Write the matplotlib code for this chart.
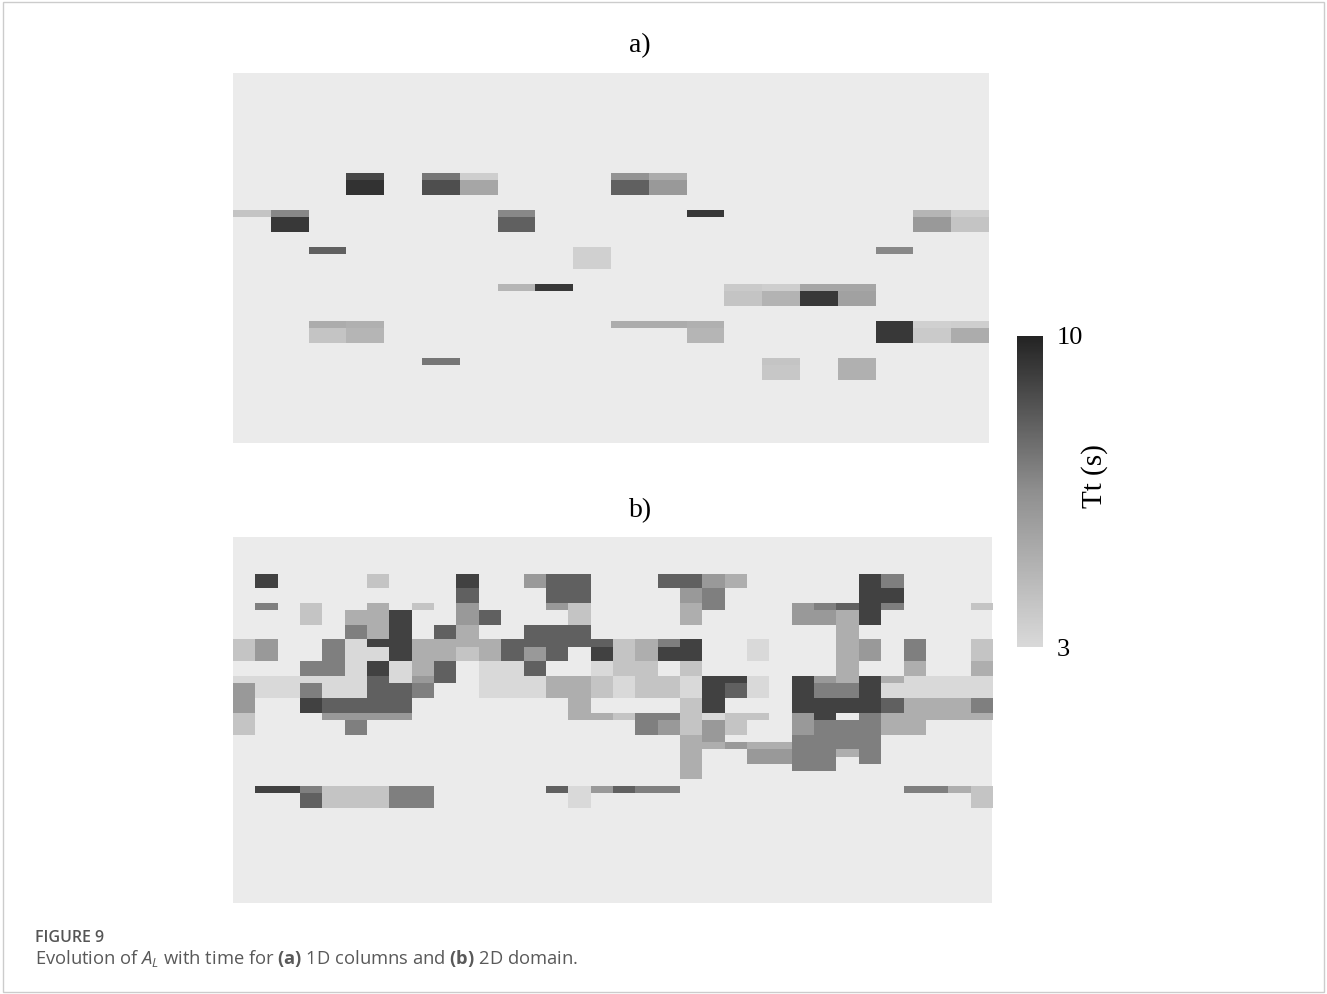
import numpy as np
import matplotlib
matplotlib.use('Agg')
import matplotlib.pyplot as plt
from matplotlib.colors import LinearSegmentedColormap, Normalize
from matplotlib.cm import ScalarMappable
from matplotlib.patches import Rectangle

# ---- data ----
# panel a: 20 soil columns, 6 layers; each patch = (column, layer, Tt upper part, Tt lower part)
a_ncols = 20
a_nrows = 100
a_layer_rows = [27, 37, 47, 57, 67, 77]
a_patches = [
    (3, 0, 8.8, 9.5), (5, 0, 7.3, 8.6), (6, 0, 3.5, 5.4), (10, 0, 6.3, 8.0), (11, 0, 5.1, 6.0),
    (0, 1, 4.0, None), (1, 1, 6.7, 9.3), (7, 1, 6.7, 8.0), (12, 1, 9.3, None),
    (18, 1, 4.7, 6.0), (19, 1, 3.5, 4.0),
    (2, 2, 8.0, None), (9, 2, 3.4, 3.4), (17, 2, 6.7, None),
    (7, 3, 4.7, None), (8, 3, 9.3, None), (13, 3, 3.7, 4.0), (14, 3, 3.5, 4.8),
    (15, 3, 5.4, 9.3), (16, 3, 5.4, 5.6),
    (2, 4, 5.1, 4.0), (3, 4, 4.9, 4.7), (10, 4, 5.1, None), (11, 4, 5.1, None),
    (12, 4, 4.9, 4.7), (17, 4, 9.3, 9.3), (18, 4, 3.4, 3.7), (19, 4, 3.5, 5.1),
    (5, 5, 7.3, None), (14, 5, 4.0, 3.85), (16, 5, 4.9, 4.9),
]

# panel b: 2D domain, 34 x 50 cells; each entry = (column, first row, last row, Tt)
b_ncols = 34
b_nrows = 50
b_cells = [
    (0, 14, 16, 4), (0, 19, 19, 3), (0, 20, 23, 6), (0, 24, 26, 4),
    (1, 5, 6, 9), (1, 9, 9, 7), (1, 14, 16, 6), (1, 19, 21, 3), (1, 34, 34, 9),
    (2, 19, 21, 3), (2, 34, 34, 9),
    (3, 9, 11, 4), (3, 17, 18, 7), (3, 19, 19, 3), (3, 20, 21, 7), (3, 22, 23, 9),
    (3, 34, 34, 7), (3, 35, 36, 8),
    (4, 14, 18, 7), (4, 19, 21, 3), (4, 22, 23, 8), (4, 24, 24, 6), (4, 34, 36, 4),
    (5, 10, 11, 5), (5, 12, 13, 7), (5, 14, 21, 3), (5, 22, 23, 8), (5, 24, 24, 6),
    (5, 25, 26, 7), (5, 34, 36, 4),
    (6, 5, 6, 4), (6, 9, 13, 5), (6, 14, 14, 9), (6, 15, 16, 3), (6, 17, 18, 9),
    (6, 19, 23, 8), (6, 24, 24, 6), (6, 34, 36, 4),
    (7, 10, 16, 9), (7, 17, 19, 3), (7, 20, 23, 8), (7, 24, 24, 6), (7, 34, 36, 7),
    (8, 9, 9, 4), (8, 14, 18, 5), (8, 19, 19, 6), (8, 20, 21, 7), (8, 34, 36, 7),
    (9, 12, 13, 8), (9, 14, 16, 5), (9, 17, 19, 8),
    (10, 5, 6, 9), (10, 7, 8, 8), (10, 9, 11, 6), (10, 12, 14, 5), (10, 15, 16, 4),
    (11, 10, 11, 8), (11, 14, 16, 5), (11, 17, 21, 3),
    (12, 14, 16, 8), (12, 17, 21, 3),
    (13, 5, 6, 6), (13, 12, 14, 8), (13, 15, 16, 6), (13, 17, 18, 8), (13, 19, 21, 3),
    (14, 5, 8, 8), (14, 9, 9, 6), (14, 12, 16, 8), (14, 19, 21, 5), (14, 34, 34, 8),
    (15, 5, 8, 8), (15, 9, 11, 4), (15, 12, 14, 8), (15, 19, 24, 5), (15, 34, 36, 3),
    (16, 14, 14, 8), (16, 15, 16, 9), (16, 17, 18, 3), (16, 19, 21, 4), (16, 24, 24, 5),
    (16, 34, 34, 6),
    (17, 14, 18, 4), (17, 19, 21, 3), (17, 24, 24, 4), (17, 34, 34, 8),
    (18, 14, 16, 5), (18, 17, 21, 4), (18, 24, 26, 7), (18, 34, 34, 7),
    (19, 5, 6, 8), (19, 14, 14, 7), (19, 15, 16, 9), (19, 19, 21, 4), (19, 24, 24, 7),
    (19, 25, 26, 6), (19, 34, 34, 7),
    (20, 5, 6, 8), (20, 7, 8, 6), (20, 9, 11, 5), (20, 14, 16, 9), (20, 17, 18, 4),
    (20, 19, 21, 3), (20, 22, 26, 4), (20, 27, 32, 5),
    (21, 5, 6, 6), (21, 7, 9, 7), (21, 19, 23, 9), (21, 24, 24, 3), (21, 25, 27, 6),
    (21, 28, 28, 5),
    (22, 5, 6, 5), (22, 19, 19, 9), (22, 20, 21, 8), (22, 24, 26, 4), (22, 28, 28, 6),
    (23, 14, 16, 3), (23, 19, 21, 3), (23, 24, 24, 4), (23, 28, 28, 5), (23, 29, 30, 6),
    (24, 28, 28, 5), (24, 29, 30, 6),
    (25, 9, 11, 6), (25, 19, 23, 9), (25, 24, 26, 6), (25, 27, 31, 7),
    (26, 9, 9, 7), (26, 10, 11, 6), (26, 19, 19, 6), (26, 20, 21, 7), (26, 22, 24, 9),
    (26, 25, 31, 7),
    (27, 9, 9, 8), (27, 10, 19, 5), (27, 20, 21, 7), (27, 22, 23, 9), (27, 25, 28, 7),
    (27, 29, 29, 5),
    (28, 5, 11, 9), (28, 14, 16, 6), (28, 19, 23, 9), (28, 24, 30, 7),
    (29, 5, 6, 7), (29, 7, 8, 9), (29, 9, 9, 7), (29, 19, 19, 5), (29, 20, 21, 3),
    (29, 22, 23, 8), (29, 24, 26, 5),
    (30, 14, 16, 7), (30, 17, 18, 5), (30, 19, 21, 3), (30, 22, 26, 5), (30, 34, 34, 7),
    (31, 19, 21, 3), (31, 22, 24, 5), (31, 34, 34, 7),
    (32, 19, 21, 3), (32, 22, 24, 5), (32, 34, 34, 5),
    (33, 9, 9, 4), (33, 14, 16, 4), (33, 17, 18, 5), (33, 19, 21, 3), (33, 22, 23, 7),
    (33, 24, 24, 5), (33, 34, 36, 4),
]

tt_min, tt_max = 3, 10

# ---- build grids ----
a_grid = np.full((a_nrows, a_ncols), np.nan)
for col, layer, t_up, t_low in a_patches:
    r = a_layer_rows[layer]
    if t_up is not None:
        a_grid[r:r + 2, col] = t_up
    if t_low is not None:
        a_grid[r + 2:r + 6, col] = t_low

b_grid = np.full((b_nrows, b_ncols), np.nan)
for col, r0, r1, tt in b_cells:
    b_grid[r0:r1 + 1, col] = tt

# ---- plot ----
cmap = LinearSegmentedColormap.from_list('tt', ['#d9d9d9', '#8f8f8f', '#232323'])
norm = Normalize(vmin=tt_min, vmax=tt_max)
bg = '#ebebeb'
serif = ['Liberation Serif', 'DejaVu Serif']

plt.rcParams['mathtext.fontset'] = 'custom'
plt.rcParams['mathtext.rm'] = 'Open Sans'
plt.rcParams['mathtext.it'] = 'Open Sans:italic'
plt.rcParams['mathtext.bf'] = 'Open Sans:bold'

fig = plt.figure(figsize=(13.27, 9.94), dpi=100)

ax_a = fig.add_axes([0.1756, 0.5543, 0.5697, 0.3722])
ax_b = fig.add_axes([0.1756, 0.0915, 0.5720, 0.3682])

for ax, grid in [(ax_a, a_grid), (ax_b, b_grid)]:
    ax.set_facecolor(bg)
    ax.imshow(grid, cmap=cmap, norm=norm, interpolation='nearest', aspect='auto',
              extent=[0, grid.shape[1], grid.shape[0], 0])
    ax.set_xticks([])
    ax.set_yticks([])
    for s in ax.spines.values():
        s.set_visible(False)

fig.text(0.482, 0.954, 'a)', ha='center', va='center', fontsize=20, family=serif)
fig.text(0.483, 0.486, 'b)', ha='center', va='center', fontsize=20, family=serif)

# colorbar
cax = fig.add_axes([0.7664, 0.349, 0.0196, 0.313])
cb = fig.colorbar(ScalarMappable(norm=norm, cmap=cmap), cax=cax, ticks=[tt_min, tt_max])
cb.outline.set_visible(False)
cb.ax.tick_params(length=0, pad=10)
cb.ax.set_yticklabels(['3', '10'], fontsize=19, family=serif)
cb.set_label('Tt (s)', fontsize=21, family=serif)
cb.ax.yaxis.set_label_coords(2.45, 0.55)

# caption
fig.text(0.0264, 0.0563, 'FIGURE 9', fontsize=11.5, family='Open Sans', weight='semibold',
         color='#555555', ha='left', va='center')
fig.text(0.0264, 0.0355, r'Evolution of $A_L$ with time for $\mathbf{(a)}$ 1D columns and $\mathbf{(b)}$ 2D domain.',
         fontsize=13.2, family='Open Sans', color='#595959', ha='left', va='center')

# light frame around the figure
fig.patches.append(Rectangle((0.002, 0.002), 0.996, 0.996, transform=fig.transFigure,
                             fill=False, edgecolor='#cccccc', linewidth=1))

fig.savefig('out.png', dpi=100)
